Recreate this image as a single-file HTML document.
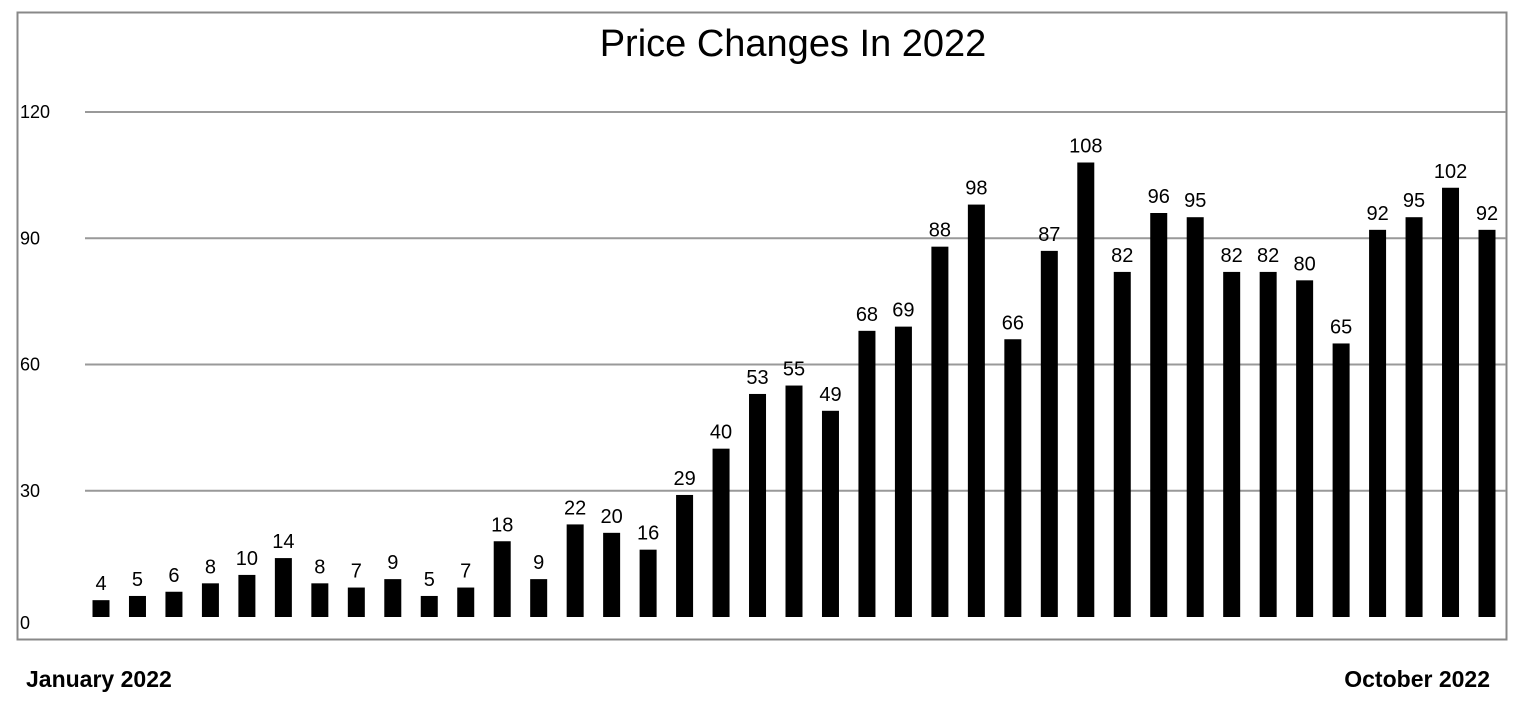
<!DOCTYPE html>
<html><head><meta charset="utf-8"><style>
body{margin:0;background:#fff;width:1520px;height:712px;overflow:hidden;font-family:"Liberation Sans",sans-serif}
</style></head><body>
<svg width="1520" height="712" id="c">
<rect x="17.5" y="12.5" width="1489" height="627" fill="#fff" stroke="#888" stroke-width="2"/>
<text x="793" y="56" text-anchor="middle" font-size="38" fill="#000">Price Changes In 2022</text>
<text x="26" y="687" font-size="23" font-weight="bold">January 2022</text>
<text x="1490" y="687" text-anchor="end" font-size="23" font-weight="bold">October 2022</text>
<g id="grid"></g><g id="bars"></g>
</svg>
<script>
const values=[4,5,6,8,10,14,8,7,9,5,7,18,9,22,20,16,29,40,53,55,49,68,69,88,98,66,87,108,82,96,95,82,82,80,65,92,95,102,92];
const ticks=[0,30,60,90,120];
const ns="http://www.w3.org/2000/svg";
const y0=617,k=(617-112)/120;
const y=v=>y0-v*k;
const x=i=>101+i*(1487-101)/(values.length-1);
const g=document.getElementById('grid'),b=document.getElementById('bars');
ticks.forEach(t=>{
 if(t>0){const l=document.createElementNS(ns,'line');
 l.setAttribute('x1',85);l.setAttribute('x2',1506);l.setAttribute('y1',y(t));l.setAttribute('y2',y(t));
 l.setAttribute('stroke','#999');l.setAttribute('stroke-width',2);
 
 g.appendChild(l);}
 const tx=document.createElementNS(ns,'text');
 tx.setAttribute('x',20);tx.setAttribute('y',t===0?y(t)+12:y(t)+6);tx.setAttribute('font-size',18);
 tx.textContent=t;
 
 g.appendChild(tx);
});
values.forEach((v,i)=>{
 const r=document.createElementNS(ns,'rect');
 r.setAttribute('x',x(i)-8.5);r.setAttribute('width',17);r.setAttribute('y',y(v));r.setAttribute('height',v*k);
 r.setAttribute('fill','#000');
 
 b.appendChild(r);
 const t=document.createElementNS(ns,'text');
 t.setAttribute('x',x(i));t.setAttribute('y',y(v)-10);t.setAttribute('text-anchor','middle');t.setAttribute('font-size',20);
 t.textContent=v;
 
 b.appendChild(t);
});
</script>
</body></html>
